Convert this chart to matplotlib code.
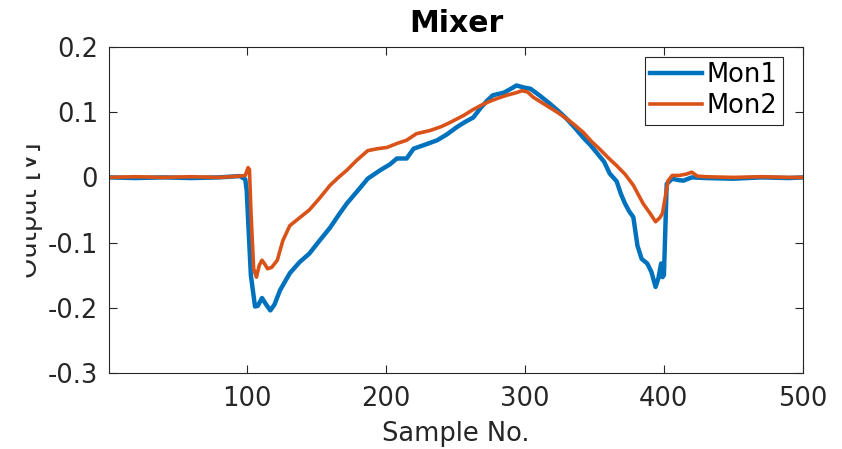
import matplotlib.pyplot as plt
from matplotlib.patches import Rectangle

# values (sample no., output in V)
mon1_x = [1, 20, 40, 60, 80, 95, 99, 100, 103, 106, 108, 111, 114, 117, 120, 124, 131, 138, 145,
          152, 160, 166, 172, 180, 187, 196, 203, 208, 215, 220, 228, 237, 244, 251, 257, 263, 268,
          273, 277, 285, 290, 294, 299, 304, 311, 318, 324, 330, 336, 342, 347, 352, 357, 361, 366,
          369, 372, 375, 378, 381, 384, 388, 391, 394, 396, 398, 399, 400, 402, 406, 410, 414, 420,
          430, 450, 470, 490, 500]
mon1_y = [0, -0.001, 0, -0.001, 0, 0.002, -0.003, -0.02, -0.15, -0.198, -0.197, -0.185, -0.195,
          -0.204, -0.195, -0.173, -0.147, -0.13, -0.117, -0.098, -0.077, -0.058, -0.04, -0.02,
          -0.002, 0.011, 0.02, 0.029, 0.029, 0.044, 0.05, 0.057, 0.066, 0.077, 0.085, 0.092, 0.106,
          0.118, 0.126, 0.13, 0.136, 0.141, 0.138, 0.136, 0.125, 0.113, 0.102, 0.09, 0.076, 0.061,
          0.05, 0.037, 0.024, 0.006, -0.006, -0.025, -0.04, -0.052, -0.061, -0.105, -0.125, -0.132,
          -0.145, -0.168, -0.155, -0.132, -0.153, -0.15, -0.01, -0.002, -0.004, -0.005, 0, -0.001,
          -0.002, 0, -0.001, 0]

mon2_x = [1, 20, 40, 60, 80, 95, 99, 101, 102, 103, 105, 107, 109, 111, 113, 115, 118, 122, 126,
          131, 138, 145, 152, 160, 166, 172, 179, 187, 194, 201, 208, 215, 222, 232, 240, 246, 256,
          262, 268, 274, 280, 287, 294, 298, 302, 306, 312, 318, 324, 330, 336, 342, 348, 354, 360,
          366, 372, 378, 385, 390, 394, 397, 399, 401, 403, 406, 411, 416, 420, 424, 430, 450, 470,
          490, 500]
mon2_y = [0, 0.001, 0, 0.001, 0, 0.002, 0.003, 0.015, 0.012, -0.05, -0.14, -0.153, -0.135, -0.127,
          -0.133, -0.14, -0.138, -0.127, -0.097, -0.074, -0.062, -0.05, -0.033, -0.012, 0.0, 0.011,
          0.026, 0.041, 0.044, 0.046, 0.052, 0.057, 0.067, 0.072, 0.078, 0.084, 0.095, 0.103, 0.11,
          0.116, 0.121, 0.126, 0.13, 0.133, 0.131, 0.123, 0.115, 0.107, 0.099, 0.09, 0.08, 0.069,
          0.055, 0.043, 0.03, 0.018, 0.005, -0.012, -0.04, -0.055, -0.068, -0.062, -0.055, -0.03,
          -0.005, 0.003, 0.003, 0.005, 0.008, 0.002, 0.001, 0, 0.001, 0, 0]

x_ticks = [100, 200, 300, 400, 500]
y_ticks = [-0.3, -0.2, -0.1, 0, 0.1, 0.2]

txt = '#262626'
plt.rcParams['font.family'] = 'DejaVu Sans'

fig = plt.figure(figsize=(8.42, 4.49), dpi=100)
ax = fig.add_axes([109 / 842, 1 - 373 / 449, 694 / 842, 326 / 449])

ax.plot(mon1_x, mon1_y, color='#0072BD', lw=3.2, label='Mon1')
ax.plot(mon2_x, mon2_y, color='#D95319', lw=2.6, label='Mon2')

ax.set_xlim(1, 500)
ax.set_ylim(-0.3, 0.2)
ax.set_xticks(x_ticks)
ax.set_yticks(y_ticks)
ax.set_yticklabels(['-0.3', '-0.2', '-0.1', '0', '0.1', '0.2'])
ax.tick_params(direction='in', length=6, width=0.8, colors=txt, labelsize=18.5,
               top=True, right=True)
ax.tick_params(axis='x', pad=9)
ax.tick_params(axis='y', pad=8)
for s in ax.spines.values():
    s.set_color(txt)
    s.set_linewidth(0.8)

ax.set_title('Mixer', fontsize=21.5, fontweight='bold', pad=11)
ax.set_xlabel('Sample No.', fontsize=18.5, color=txt, labelpad=7)
ax.set_ylabel('Output [V]', fontsize=18.5, color=txt)
ax.yaxis.set_label_coords(-0.095, 0.5)

leg = ax.legend(loc='upper right', bbox_to_anchor=(0.971, 0.969), borderaxespad=0,
                fontsize=18.5, fancybox=False, framealpha=1, edgecolor=txt,
                handlelength=2, handletextpad=0.2, borderpad=0.2, labelspacing=0.2)
leg.get_frame().set_linewidth(0.8)

# the reference has the left edge of the y label cut away
fig.patches.append(Rectangle((0, 0), 25 / 842, 1, transform=fig.transFigure,
                             color='white', zorder=10))

fig.savefig('out.png', dpi=100)
